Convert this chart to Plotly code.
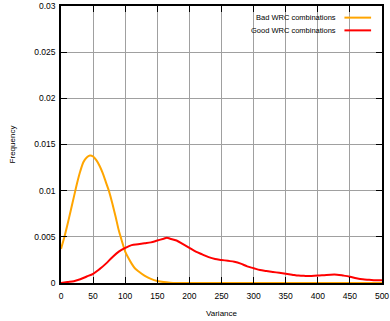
import plotly.graph_objects as go

# ---- data ----
bad_x = [0, 5, 10, 15, 20, 25, 30, 35, 40, 45, 50, 55, 60, 65, 70, 75, 80, 85, 90, 95,
         100, 105, 110, 115, 120, 130, 140, 150, 160, 170, 180, 190, 250, 300, 350, 400, 450, 500]
bad_y = [0.0037, 0.0049, 0.0063, 0.0078, 0.0093, 0.0108, 0.0121, 0.0131, 0.0136, 0.0138,
         0.0137, 0.0133, 0.0127, 0.0119, 0.0109, 0.0099, 0.0086, 0.0072, 0.0057, 0.0045,
         0.0034, 0.0027, 0.0021, 0.0016, 0.0013, 0.0008, 0.00045, 0.00022, 0.0001, 0.00004,
         0.00001, 0.0, 0.0, 0.0, 0.0, 0.0, 0.0, 0.0]

good_x = [0, 10, 20, 30, 40, 50, 60, 70, 80, 90, 100, 110, 120, 130, 140, 150, 160, 165,
          170, 180, 190, 200, 210, 220, 230, 240, 250, 260, 270, 280, 290, 300, 310, 320,
          330, 340, 350, 360, 370, 380, 390, 400, 410, 420, 430, 440, 450, 460, 470, 480,
          490, 500]
good_y = [0.0, 0.0001, 0.0002, 0.0004, 0.0007, 0.0010, 0.0015, 0.0021, 0.0028, 0.0034,
          0.0038, 0.0041, 0.0042, 0.0043, 0.0044, 0.0046, 0.0048, 0.0049, 0.0048, 0.0046,
          0.0042, 0.0038, 0.0034, 0.0031, 0.0028, 0.0026, 0.0025, 0.0024, 0.0023, 0.0021,
          0.0018, 0.0016, 0.0014, 0.0013, 0.0012, 0.0011, 0.0010, 0.0009, 0.0008, 0.00077,
          0.00077, 0.0008, 0.00085, 0.0009, 0.0009, 0.0008, 0.00068, 0.00052, 0.0004,
          0.00035, 0.0003, 0.0003]

series_names = ["Bad WRC combinations", "Good WRC combinations"]
x_ticks = [0, 50, 100, 150, 200, 250, 300, 350, 400, 450, 500]
y_ticks = [0, 0.005, 0.01, 0.015, 0.02, 0.025, 0.03]
y_ticktext = ["0", "0.005", "0.01", "0.015", "0.02", "0.025", "0.03"]

FONT = "Liberation Sans, Arial, sans-serif"
colors = ["#ffa500", "#ff0000"]

fig = go.Figure()
fig.add_trace(go.Scatter(x=bad_x, y=bad_y, mode="lines", name=series_names[0],
                         line=dict(color=colors[0], width=2, shape="spline", smoothing=0.8),
                         showlegend=False))
fig.add_trace(go.Scatter(x=good_x, y=good_y, mode="lines", name=series_names[1],
                         line=dict(color=colors[1], width=2, shape="spline", smoothing=1.0),
                         showlegend=False))

# legend drawn gnuplot-style: right-aligned text, line sample on the right
leg_y = [0.958, 0.912]
for name, col, yy in zip(series_names, colors, leg_y):
    fig.add_annotation(x=0.863, y=yy, xref="paper", yref="paper", text=name,
                       showarrow=False, xanchor="right", yanchor="middle",
                       font=dict(family=FONT, size=7.5, color="#000"))
    fig.add_shape(type="line", xref="paper", yref="paper", x0=0.883, x1=0.966,
                  y0=yy, y1=yy, line=dict(color=col, width=2))

axis_common = dict(showline=True, linecolor="black", linewidth=1.5, mirror="ticks",
                   ticks="inside", ticklen=6, tickcolor="black", tickwidth=1,
                   showgrid=True, gridcolor="#a0a0a0", gridwidth=1, zeroline=False,
                   ticklabeloverflow="allow",
                   tickfont=dict(family=FONT, size=8.5, color="#000"))

fig.update_layout(
    width=390, height=321,
    margin=dict(l=61, r=1, t=5, b=38),
    paper_bgcolor="white", plot_bgcolor="white",
    xaxis=dict(range=[0, 500], tickvals=x_ticks, ticktext=[str(v) for v in x_ticks],
               ticklabelstandoff=4,
               title=dict(text="Variance", font=dict(family=FONT, size=8, color="#000"), standoff=10),
               **axis_common),
    yaxis=dict(range=[0, 0.03], tickvals=y_ticks, ticktext=y_ticktext,
               ticklabelstandoff=2,
               title=dict(text="Frequency", font=dict(family=FONT, size=8, color="#000"), standoff=17),
               **axis_common),
)

fig.write_html("out.html")
